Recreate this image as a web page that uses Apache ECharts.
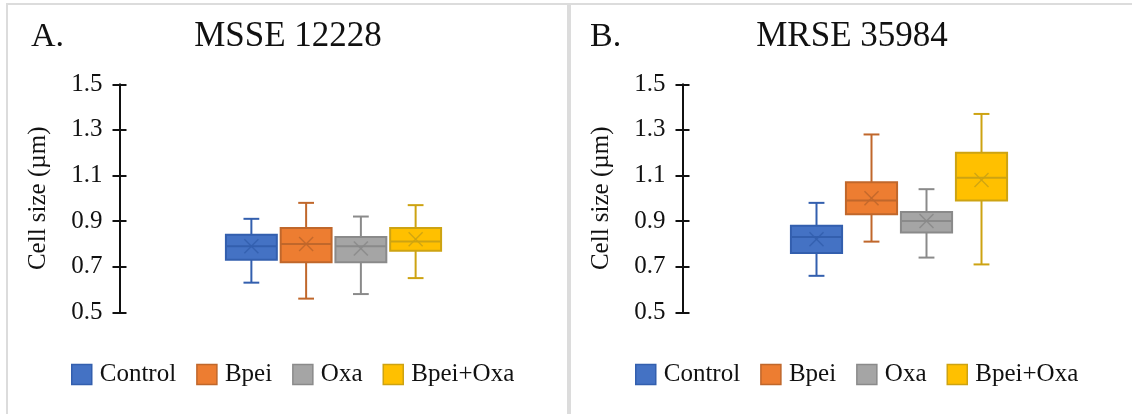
<!DOCTYPE html>
<html>
<head>
<meta charset="utf-8">
<title>Cell size box plots</title>
<script src="https://cdn.jsdelivr.net/npm/echarts@6/dist/echarts.min.js"></script>
<style>
  html, body { margin: 0; padding: 0; background: #ffffff; font-family: 'Liberation Serif', serif; }
  #chart { width: 1132px; height: 414px; }
</style>
</head>
<body>
<div id="chart"></div>
<script>
// Treatment groups (one box per group in each panel)
const groups = ['Control', 'Bpei', 'Oxa', 'Bpei+Oxa'];

// Panel titles
const panelLetters = ['A.', 'B.'];
const panelTitles = ['MSSE 12228', 'MRSE 35984'];

// Y axis range and tick step (µm)
const yMin = 0.5;
const yMax = 1.5;
const yStep = 0.2;

// Box statistics per group: [min, Q1, median, Q3, max, mean]
const msseControl = [0.63, 0.73, 0.79, 0.84, 0.91, 0.79];
const msseBpei    = [0.56, 0.72, 0.80, 0.87, 0.98, 0.80];
const msseOxa     = [0.58, 0.72, 0.79, 0.83, 0.92, 0.78];
const msseBpeiOxa = [0.65, 0.77, 0.81, 0.87, 0.97, 0.82];

const mrseControl = [0.66, 0.76, 0.83, 0.88, 0.98, 0.82];
const mrseBpei    = [0.81, 0.93, 0.99, 1.07, 1.28, 1.00];
const mrseOxa     = [0.74, 0.85, 0.90, 0.94, 1.04, 0.90];
const mrseBpeiOxa = [0.71, 0.99, 1.09, 1.20, 1.37, 1.08];

const panelStats = [
  [msseControl, msseBpei, msseOxa, msseBpeiOxa],
  [mrseControl, mrseBpei, mrseOxa, mrseBpeiOxa]
];

// Fill and outline colours per group
const fills = ['#4472C4', '#ED7D31', '#A5A5A5', '#FFC000'];
const edges = ['#335FAE', '#C0672B', '#8A8A8A', '#CDA312'];

const FONT = 'Liberation Serif';
const INK = '#111111';

// Panel geometry (pixels)
const panels = [
  { frameX: 7, frameW: 561, gridLeft: 224, gridWidth: 219, axisX: 119.5,
    letterX: 31, titleX: 288, legendLeft: 71 },
  { frameX: 570, frameW: 620, gridLeft: 789, gridWidth: 220, axisX: 682.5,
    letterX: 590, titleX: 852, legendLeft: 635 }
];
const gridTop = 84.3;
const gridHeight = 228;

const BOX_RATIO = 0.93;   // box width relative to the category band
const CAP_RATIO = 0.31;   // whisker cap width relative to the box
const MEAN_HALF = 7;      // half size of the mean "x" marker

function renderBox(params, api) {
  const c = api.value(0);
  const mn = api.value(1), q1 = api.value(2), md = api.value(3);
  const q3 = api.value(4), mx = api.value(5), avg = api.value(6);
  const band = api.size([1, 0])[0];
  const w = band * BOX_RATIO;
  const cap = w * CAP_RATIO;
  const pMin = api.coord([c, mn]);
  const pQ1 = api.coord([c, q1]);
  const pMd = api.coord([c, md]);
  const pQ3 = api.coord([c, q3]);
  const pMx = api.coord([c, mx]);
  const pAvg = api.coord([c, avg]);
  const x = pMin[0];
  const edge = edges[c];
  const fill = fills[c];
  const line = { stroke: edge, lineWidth: 2 };
  const thin = { stroke: edge, lineWidth: 1.4, opacity: 0.9 };
  return {
    type: 'group',
    children: [
      { type: 'line', shape: { x1: x, y1: pMx[1], x2: x, y2: pQ3[1] }, style: line },
      { type: 'line', shape: { x1: x, y1: pQ1[1], x2: x, y2: pMin[1] }, style: line },
      { type: 'line', shape: { x1: x - cap / 2, y1: pMx[1], x2: x + cap / 2, y2: pMx[1] }, style: line },
      { type: 'line', shape: { x1: x - cap / 2, y1: pMin[1], x2: x + cap / 2, y2: pMin[1] }, style: line },
      { type: 'rect', shape: { x: x - w / 2, y: pQ3[1], width: w, height: pQ1[1] - pQ3[1] },
        style: { fill: fill, stroke: edge, lineWidth: 2 } },
      { type: 'line', shape: { x1: x - w / 2, y1: pMd[1], x2: x + w / 2, y2: pMd[1] }, style: line },
      { type: 'line', shape: { x1: x - MEAN_HALF, y1: pAvg[1] - MEAN_HALF, x2: x + MEAN_HALF, y2: pAvg[1] + MEAN_HALF }, style: thin },
      { type: 'line', shape: { x1: x - MEAN_HALF, y1: pAvg[1] + MEAN_HALF, x2: x + MEAN_HALF, y2: pAvg[1] - MEAN_HALF }, style: thin }
    ]
  };
}

const grids = [], xAxes = [], yAxes = [], series = [], legends = [], graphics = [];

panels.forEach(function (p, pi) {
  grids.push({ left: p.gridLeft, top: gridTop, width: p.gridWidth, height: gridHeight, containLabel: false });

  xAxes.push({
    type: 'category', gridIndex: pi, data: groups, boundaryGap: true, show: false
  });

  const offset = p.gridLeft - p.axisX;
  // Main value axis: line, outer ticks, labels and name
  yAxes.push({
    type: 'value', gridIndex: pi, position: 'left', offset: offset,
    min: yMin, max: yMax, interval: yStep,
    axisLine: { show: true, lineStyle: { color: INK, width: 2 } },
    axisTick: { show: true, inside: false, length: 7, lineStyle: { color: INK, width: 2 } },
    axisLabel: {
      show: true, margin: 17, color: INK, fontSize: 25, fontFamily: FONT,
      formatter: function (v) { return v.toFixed(1); }
    },
    splitLine: { show: false },
    name: 'Cell size (µm)', nameLocation: 'middle', nameGap: 69,
    nameTextStyle: { color: INK, fontSize: 25, fontFamily: FONT }
  });
  // Companion axis giving the inner half of each cross tick
  yAxes.push({
    type: 'value', gridIndex: pi, position: 'left', offset: offset,
    min: yMin, max: yMax, interval: yStep,
    axisLine: { show: false },
    axisTick: { show: true, inside: true, length: 7, lineStyle: { color: INK, width: 2 } },
    axisLabel: { show: false },
    splitLine: { show: false }
  });

  panelStats[pi].forEach(function (s, gi) {
    series.push({
      type: 'custom',
      name: groups[gi],
      xAxisIndex: pi,
      yAxisIndex: pi * 2,
      renderItem: renderBox,
      itemStyle: { color: fills[gi], borderColor: edges[gi], borderWidth: 1.5 },
      encode: { x: 0, y: [1, 2, 3, 4, 5, 6] },
      data: [[gi].concat(s)],
      silent: true
    });
  });

  legends.push({
    data: groups, orient: 'horizontal', left: p.legendLeft, top: 362, padding: 0,
    icon: 'rect', itemWidth: 20, itemHeight: 20, itemGap: 20,
    itemStyle: { borderWidth: 1.5 },
    textStyle: { color: INK, fontSize: 25, fontFamily: FONT, padding: [0, 0, 0, 3] },
    selectedMode: false
  });

  // Panel frame
  graphics.push({
    type: 'rect', silent: true, z: -10,
    shape: { x: p.frameX, y: 4, width: p.frameW, height: 430 },
    style: { fill: 'none', stroke: '#DCDCDC', lineWidth: 2 }
  });
  // Panel letter and title
  graphics.push({
    type: 'text', silent: true, x: p.letterX, y: 37,
    style: { text: panelLetters[pi], fill: INK, fontSize: 34, fontFamily: FONT, align: 'left', verticalAlign: 'middle' }
  });
  graphics.push({
    type: 'text', silent: true, x: p.titleX, y: 37,
    style: { text: panelTitles[pi], fill: INK, fontSize: 35, fontFamily: FONT, align: 'center', verticalAlign: 'middle' }
  });
});

const chart = echarts.init(document.getElementById('chart'), null, { renderer: 'canvas' });
chart.setOption({
  backgroundColor: '#ffffff',
  animation: false,
  textStyle: { fontFamily: FONT, color: INK },
  grid: grids,
  xAxis: xAxes,
  yAxis: yAxes,
  legend: legends,
  series: series,
  graphic: graphics
});
</script>
</body>
</html>
